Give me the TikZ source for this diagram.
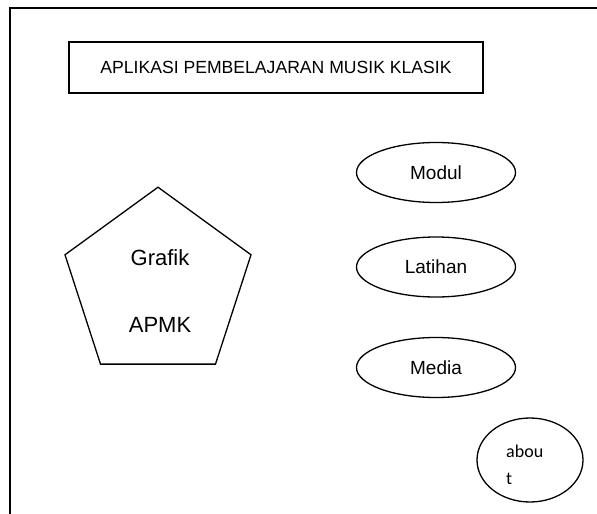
\documentclass[tikz,border=0pt]{standalone}
\usepackage{fontspec}
\setmainfont{Liberation Sans}
\newfontfamily\aboutfont{Carlito}
\usetikzlibrary{shapes.geometric}
\begin{document}
\begin{tikzpicture}[x=1pt,y=-1pt,
  frameline/.style={line width=2pt},
  shapeline/.style={draw,line width=1.3pt},
  menuitem/.style={shapeline,ellipse,minimum width=159pt,minimum height=60pt,inner sep=0pt,font=\fontsize{19}{22}\selectfont},
  plaintext/.style={inner sep=0pt,font=\fontsize{22}{26}\selectfont}]
\useasboundingbox (0,0) rectangle (597,514);
\coordinate (ftl) at (10,7.5);
\coordinate (ftr) at (597,7.5);
\coordinate (fbl) at (10,514);
\draw[frameline] (ftr) -- (ftl) -- (fbl);
\node[shapeline,minimum width=414pt,minimum height=51pt,inner sep=0pt,font=\fontsize{17.6}{20}\selectfont] (title) at (276,67.5) {APLIKASI PEMBELAJARAN MUSIK KLASIK};
\node[shapeline,regular polygon,regular polygon sides=5,minimum size=195.6pt,inner sep=0pt] (penta) at (158,285) {};
\node[plaintext] (grafik) at (160,258) {Grafik};
\node[plaintext] (apmk) at (160,325) {APMK};
\node[menuitem] (modul) at (436,172.5) {Modul};
\node[menuitem] (latihan) at (436,267) {Latihan};
\node[menuitem] (media) at (436,367.5) {Media};
\node[shapeline,ellipse,minimum width=106pt,minimum height=84pt,inner sep=0pt] (about) at (530,460) {};
\node[inner sep=0pt,anchor=north west,align=left,font=\aboutfont\fontsize{18}{27}\selectfont] (abouttext) at (506,445) {abou\\t};
\end{tikzpicture}
\end{document}
